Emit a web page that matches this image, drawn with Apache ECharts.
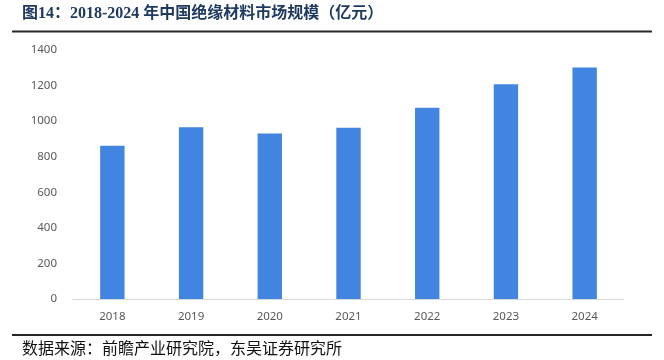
<!DOCTYPE html>
<html>
<head>
<meta charset="utf-8">
<script src="https://cdn.jsdelivr.net/npm/echarts@6/dist/echarts.min.js"></script>
<style>
html,body{margin:0;padding:0;background:#fff;}
#chart{width:664px;height:360px;}
</style>
</head>
<body>
<div id="chart"></div>
<script>
var categories = ['2018','2019','2020','2021','2022','2023','2024'];
var values = [862, 965, 930, 963, 1076, 1207, 1302];
var yTicks = [0, 200, 400, 600, 800, 1000, 1200, 1400];
var titleText = '图14：2018-2024 年中国绝缘材料市场规模（亿元）';
var sourceText = '数据来源：前瞻产业研究院，东吴证券研究所';

var chart = echarts.init(document.getElementById('chart'), null, {renderer:'canvas'});
chart.setOption({
  animation: false,
  backgroundColor: '#ffffff',
  grid: {left: 73, right: 40, top: 50, bottom: 61},
  xAxis: {
    type: 'category',
    data: categories,
    axisLine: {show: true, lineStyle: {color: '#d9d9d9', width: 1}},
    axisTick: {show: false},
    axisLabel: {color: '#595959', fontSize: 11.5, fontFamily: 'Noto Sans', margin: 12}
  },
  yAxis: {
    type: 'value',
    min: yTicks[0],
    max: yTicks[yTicks.length - 1],
    interval: 200,
    splitLine: {show: false},
    axisLine: {show: false},
    axisTick: {show: false},
    axisLabel: {color: '#595959', fontSize: 11.5, fontFamily: 'Noto Sans', margin: 16,
      formatter: function (v) { return String(v); }}
  },
  series: [{
    type: 'bar',
    data: values,
    barWidth: '31%',
    itemStyle: {color: '#4285e0'}
  }],
  graphic: [
    {type: 'text', left: 22, top: 6, style: {text: titleText, fill: '#1f3a60', font: 'bold 16px "Liberation Serif", "Noto Sans CJK SC"'}},
    {type: 'rect', shape: {x: 12, y: 30.5, width: 640, height: 2}, style: {fill: '#262626'}},
    {type: 'rect', shape: {x: 12, y: 334, width: 640, height: 2}, style: {fill: '#262626'}},
    {type: 'text', left: 22, top: 340, style: {text: sourceText, fill: '#111111', font: '16px "Noto Sans CJK SC"'}}
  ]
});
</script>
</body>
</html>
